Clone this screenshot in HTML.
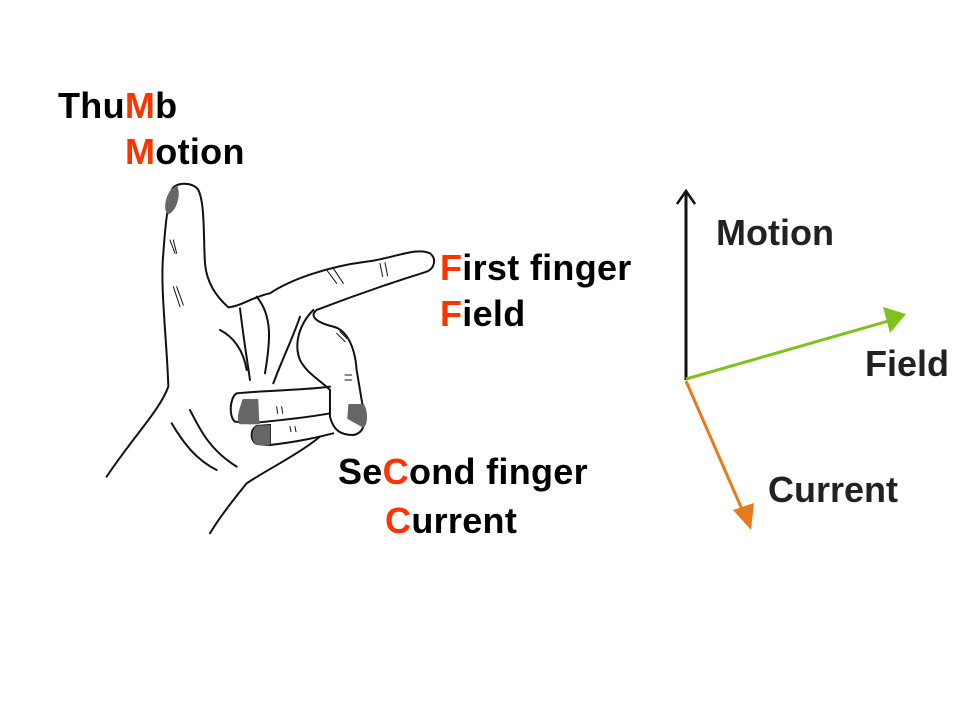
<!DOCTYPE html>
<html><head><style>
html,body{margin:0;padding:0;background:#fff;}
body{width:960px;height:720px;position:relative;overflow:hidden;font-family:"Liberation Sans",Arial,sans-serif;font-weight:bold;}
.t{position:absolute;font-size:36px;color:#000;white-space:nowrap;line-height:1;letter-spacing:0.3px;}
.r{color:#ff3300;}
.g{position:absolute;font-size:36px;color:#222;white-space:nowrap;line-height:1;}
</style></head><body>
<svg width="960" height="720" style="position:absolute;left:0;top:0">
<g transform="translate(100,170) scale(0.3333)" fill="none" stroke="#111" stroke-width="6" stroke-linecap="round" stroke-linejoin="round">
<path d="M20,920 C100,800 180,720 205,650 C200,500 180,350 190,250 C195,180 200,120 215,60 C225,35 280,35 295,60 C315,100 310,200 315,280 C320,340 350,380 385,412 C420,410 460,380 510,370 C570,330 680,290 800,275 C880,265 950,230 990,250 C1010,265 1005,295 980,305 C900,330 780,370 650,420 C630,435 640,455 700,470 C740,480 765,530 770,600 L790,720 C800,760 790,790 760,795 C720,795 700,780 690,740"/>
<path d="M690,650 C620,660 520,660 410,670 C390,680 385,740 405,755 L450,760 C550,750 640,740 690,730"/>
<path d="M700,790 C660,800 600,815 510,825 L470,822 C450,810 450,780 470,768 L510,765"/>
<path d="M510,825 L510,765"/>
<path d="M660,800 C600,850 500,900 440,940 C400,990 360,1040 330,1090"/>
<path d="M420,415 C430,500 440,560 450,630"/>
<path d="M470,380 C520,440 510,520 495,610"/>
<path d="M360,480 C400,500 430,540 440,600"/>
<path d="M600,440 C580,500 550,560 520,640"/>
<path d="M640,420 C600,460 580,520 600,570 C620,610 660,630 690,660 L690,740"/>
<path d="M270,720 C300,780 330,840 410,890"/>
<path d="M215,760 C250,820 290,870 350,900"/>
<path d="M680,300 l30,40 M700,295 l30,45 M840,280 l8,40 M855,278 l8,40" stroke-width="3"/>
<path d="M210,210 l15,40 M220,210 l10,40 M220,350 l20,60 M230,350 l20,55 M710,490 l25,25 M720,485 l20,20 M735,615 l20,0 M735,630 l20,0 M530,710 l3,20 M545,710 l3,20 M570,770 l3,15 M585,770 l3,15" stroke-width="3"/>
<path d="M215,60 C195,90 195,120 205,130 C225,120 240,80 230,50 Z" fill="#666" stroke="#666"/>
<path d="M430,690 L472,690 L475,760 L420,760 C410,740 425,710 430,690 Z" fill="#666" stroke="#666"/>
<path d="M470,770 L508,768 L508,822 L470,822 C455,805 458,785 470,770 Z" fill="#666" stroke="#666"/>
<path d="M748,705 L790,705 C802,730 800,760 790,770 L745,745 Z" fill="#666" stroke="#666"/>
</g>
<g stroke-width="3" fill="none">
<line x1="686" y1="380" x2="686" y2="192" stroke="#111"/>
<path d="M677,204 L686,191 L695,204" stroke="#111" stroke-width="2.5"/>
<line x1="686" y1="379" x2="892" y2="320" stroke="#7dc21e"/>
<path d="M883,307 L906,314 L890,333 Z" fill="#7dc21e" stroke="none"/>
<line x1="686" y1="381" x2="744" y2="514" stroke="#e87a1a"/>
<path d="M733,510 L751,530 L754,503 Z" fill="#e87a1a" stroke="none"/>
</g>
</svg>
<div class="t" style="left:58px;top:88px">Thu<span class="r">M</span>b</div>
<div class="t" style="left:125px;top:134px"><span class="r">M</span>otion</div>
<div class="t" style="left:440px;top:250px"><span class="r">F</span>irst finger</div>
<div class="t" style="left:440px;top:296px"><span class="r">F</span>ield</div>
<div class="t" style="left:338px;top:454px">Se<span class="r">C</span>ond finger</div>
<div class="t" style="left:385px;top:503px"><span class="r">C</span>urrent</div>
<div class="g" style="left:716px;top:215px">Motion</div>
<div class="g" style="left:865px;top:346px">Field</div>
<div class="g" style="left:768px;top:472px">Current</div>
</body></html>
